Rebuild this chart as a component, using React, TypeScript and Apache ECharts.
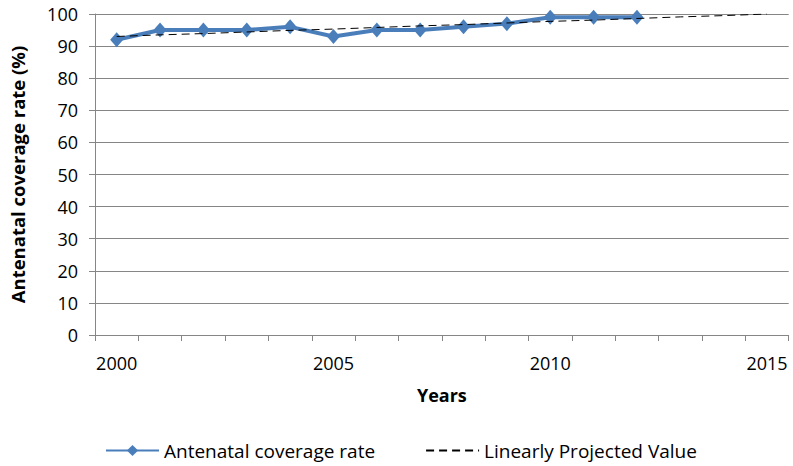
import React, { useEffect, useRef } from "react";
import * as echarts from "echarts";

// Years on the horizontal axis
const years = [
  "2000", "2001", "2002", "2003", "2004", "2005", "2006", "2007",
  "2008", "2009", "2010", "2011", "2012", "2013", "2014", "2015",
];

// Observed antenatal coverage rate (%), 2000–2012
const coverageRate = [92, 95, 95, 95, 96, 93, 95, 95, 96, 97, 99, 99, 99];

// Linear trend projected through 2015
const projectedValue = [
  93.0, 93.5, 93.9, 94.4, 94.9, 95.3, 95.8, 96.3,
  96.7, 97.2, 97.7, 98.1, 98.6, 99.1, 99.5, 100.0,
];

const yTicks = { min: 0, max: 100, interval: 10 };

const FONT = "'Open Sans', 'Liberation Sans', sans-serif";
const AXIS_GRAY = "#868686";

export default function App() {
  const ref = useRef<HTMLDivElement>(null);

  useEffect(() => {
    if (!ref.current) return;
    const chart = echarts.init(ref.current, undefined, { renderer: "svg" });
    chart.setOption({
      animation: false,
      backgroundColor: "#ffffff",
      textStyle: { fontFamily: FONT },
      grid: { left: 89.7, right: 4.3, top: 14, bottom: 131 },
      xAxis: {
        type: "category",
        data: years,
        boundaryGap: true,
        name: "Years",
        nameLocation: "middle",
        nameGap: 51,
        nameTextStyle: { fontFamily: FONT, fontSize: 18, fontWeight: "bold", color: "#000" },
        axisLine: { show: true, lineStyle: { color: AXIS_GRAY, width: 1 } },
        axisTick: { show: true, interval: 0, length: 6, lineStyle: { color: AXIS_GRAY } },
        axisLabel: { interval: 4, margin: 19, fontSize: 18, color: "#000", fontFamily: FONT },
        splitLine: { show: false },
      },
      yAxis: {
        type: "value",
        min: yTicks.min,
        max: yTicks.max,
        interval: yTicks.interval,
        name: "Antenatal coverage rate (%)",
        nameLocation: "middle",
        nameGap: 68,
        nameTextStyle: { fontFamily: FONT, fontSize: 18.5, fontWeight: "bold", color: "#000" },
        axisLine: { show: true, lineStyle: { color: AXIS_GRAY, width: 1 } },
        axisTick: { show: true, length: 6, lineStyle: { color: AXIS_GRAY } },
        axisLabel: { margin: 17, fontSize: 18, color: "#000", fontFamily: FONT },
        splitLine: { show: true, lineStyle: { color: AXIS_GRAY, width: 1 } },
      },
      legend: {
        left: 105,
        top: 441,
        padding: 0,
        itemWidth: 53,
        itemHeight: 14,
        itemGap: 50,
        textStyle: { fontFamily: FONT, fontSize: 19, color: "#000" },
        data: [
          { name: "Antenatal coverage rate" },
          { name: "Linearly Projected Value", itemStyle: { opacity: 0 } },
        ],
      },
      series: [
        {
          name: "Linearly Projected Value",
          type: "line",
          data: projectedValue,
          symbol: "none",
          z: 3,
          lineStyle: { color: "#000000", width: 1, type: [8, 5] },
          itemStyle: { color: "#000000" },
        },
        {
          name: "Antenatal coverage rate",
          type: "line",
          data: coverageRate,
          symbol: "diamond",
          symbolSize: [13, 15],
          showSymbol: true,
          z: 2,
          lineStyle: { color: "#4a7ebb", width: 4 },
          itemStyle: { color: "#4a7ebb" },
        },
      ],
    });
    return () => chart.dispose();
  }, []);

  return (
    <div
      ref={ref}
      style={{ width: 793, height: 466, position: "absolute", left: 0, top: 0 }}
    />
  );
}
